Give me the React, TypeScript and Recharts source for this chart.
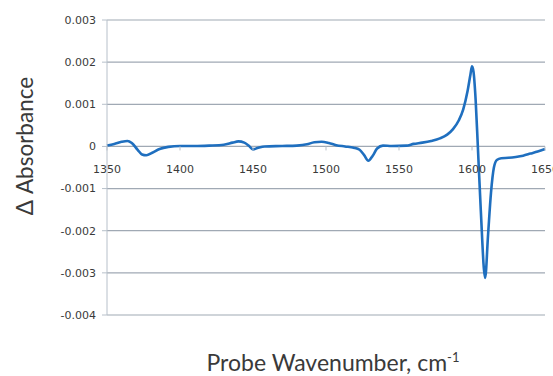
import { CartesianGrid, Label, Line, LineChart, XAxis, YAxis } from "recharts";

// probe wavenumber (cm-1) and difference absorbance
const WAVENUMBERS = [
  1350, 1355, 1360, 1364, 1367, 1371, 1374, 1377, 1381, 1386, 1392, 1400,
  1410, 1420, 1430, 1436, 1440, 1444, 1447, 1450, 1453, 1458, 1470, 1480,
  1487, 1492, 1497, 1502, 1507, 1513, 1519, 1523, 1526, 1529, 1532, 1535,
  1539, 1545, 1555, 1560, 1566, 1572, 1578, 1583, 1587, 1591, 1594, 1597,
  1599, 1600, 1601, 1602.5, 1604, 1606, 1609, 1611, 1613, 1615, 1617, 1620,
  1625, 1630, 1635, 1640, 1645, 1650,
];
const ABSORBANCE = [
  0.00002, 0.00006, 0.00011, 0.00013, 0.00008, -0.00008, -0.00019, -0.00021, -0.00015, -0.00006, -0.00001, 0.00001,
  0.00001, 0.00002, 0.00004, 0.00009, 0.00012, 0.00009, 0.00002, -0.00007, -0.00004, 0.0, 0.00001, 0.00002,
  0.00005, 0.0001, 0.00011, 0.00008, 0.00003, 0.0, -0.00003, -0.00008, -0.0002, -0.00034, -0.00022, -0.00005,
  0.00002, 0.00001, 0.00002, 0.00006, 0.00009, 0.00013, 0.00019, 0.00028, 0.00041, 0.00062, 0.00088, 0.00132,
  0.00172, 0.0019, 0.00178, 0.0011, 0.0, -0.0015, -0.00312, -0.0021, -0.0011, -0.0005, -0.00032, -0.00028,
  -0.00027, -0.00025, -0.00022, -0.00017, -0.00012, -0.00006,
];
const X_TICKS = [1350, 1400, 1450, 1500, 1550, 1600, 1650];
const Y_TICKS = [-0.004, -0.003, -0.002, -0.001, 0, 0.001, 0.002, 0.003];

const data = WAVENUMBERS.map((wn, i) => ({ wn, abs: ABSORBANCE[i] }));

const W = 553;
const H = 376;
const MARGIN = { top: 20, right: 8, bottom: 0, left: 0 };
const X_AXIS_H = 61;
const Y_MIN = -0.004;
const Y_MAX = 0.003;
const GRID = "#a0a9b4";
const AXIS = "#b7c0ca";
const TEXT = "#3a3a3a";
const LINE = "#1f6fbf";
const TITLE_FONT = "Lato, 'Open Sans', sans-serif";

// x axis crosses at y = 0, so ticks are drawn up on the zero line
const PLOT_H = H - MARGIN.top - MARGIN.bottom - X_AXIS_H;
const ZERO_Y = MARGIN.top + (PLOT_H * Y_MAX) / (Y_MAX - Y_MIN);

function XTick({ x, payload }: any) {
  return (
    <g>
      <line x1={x} x2={x} y1={ZERO_Y} y2={ZERO_Y + 4} stroke={AXIS} />
      <text x={x} y={ZERO_Y + 27} textAnchor="middle" fontSize={11} fill={TEXT}
        fontFamily="'DejaVu Sans', sans-serif">
        {payload.value}
      </text>
    </g>
  );
}

export default function App() {
  return (
    <div style={{ position: "absolute", left: 0, top: 0, width: W, height: H, background: "#fff" }}>
      <LineChart width={W} height={H} data={data} margin={MARGIN}>
        <CartesianGrid vertical={false} stroke={GRID} strokeWidth={1.2} />
        <XAxis
          dataKey="wn"
          type="number"
          domain={[1350, 1650]}
          ticks={X_TICKS}
          height={X_AXIS_H}
          axisLine={false}
          tickLine={false}
          tick={<XTick />}
          interval={0}
        >
          <Label
            content={({ viewBox }: any) => (
              <text x={viewBox.x + viewBox.width / 2 + 7} y={371} textAnchor="middle"
                fontSize={23} fill={TEXT} fontFamily={TITLE_FONT}>
                Probe Wavenumber, cm<tspan dy={-9} fontSize={13}>-1</tspan>
              </text>
            )}
          />
        </XAxis>
        <YAxis
          type="number"
          domain={[Y_MIN, Y_MAX]}
          ticks={Y_TICKS}
          width={107}
          interval={0}
          axisLine={{ stroke: AXIS }}
          tickLine={{ stroke: AXIS }}
          tickSize={5}
          tickMargin={6}
          tick={{ fontSize: 11, fill: TEXT, fontFamily: "'DejaVu Sans', sans-serif" }}
          tickFormatter={(v: number) => (v === 0 ? "0" : v.toFixed(3))}
        >
          <Label
            content={() => (
              <text x={33} y={146} textAnchor="middle" transform="rotate(-90, 33, 146)"
                fontSize={22.5} fill={TEXT} fontFamily={TITLE_FONT}>
                Δ Absorbance
              </text>
            )}
          />
        </YAxis>
        <Line
          type="monotone"
          dataKey="abs"
          stroke={LINE}
          strokeWidth={2.6}
          dot={false}
          isAnimationActive={false}
        />
      </LineChart>
    </div>
  );
}
